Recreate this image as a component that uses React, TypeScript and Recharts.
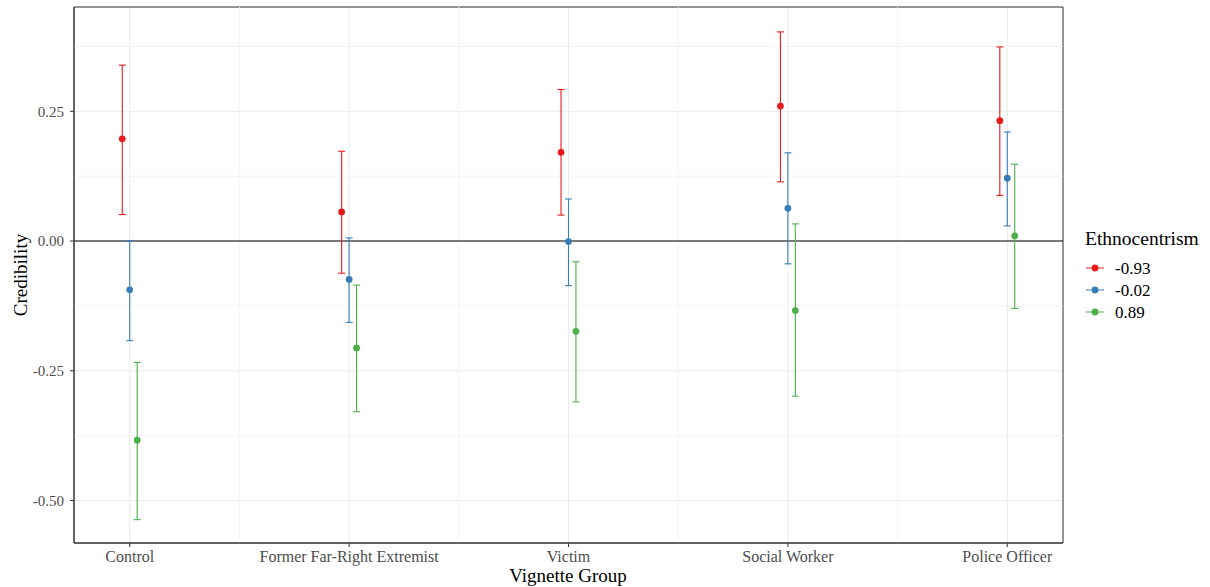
import React from 'react';
import {
  ScatterChart,
  Scatter,
  XAxis,
  YAxis,
  CartesianGrid,
  ErrorBar,
  ReferenceLine,
  ReferenceArea,
  Label,
} from 'recharts';

const FONT = '"Liberation Serif", "Times New Roman", serif';

// ---------- data ----------
const categories = ['Control', 'Former Far-Right Extremist', 'Victim', 'Social Worker', 'Police Officer'];
const levels = ['-0.93', '-0.02', '0.89'];

// Ethnocentrism = -0.93
const estLow = [0.197, 0.056, 0.171, 0.26, 0.232];
const ciLoLow = [0.051, -0.062, 0.05, 0.114, 0.088];
const ciHiLow = [0.339, 0.173, 0.292, 0.403, 0.374];
// Ethnocentrism = -0.02
const estMid = [-0.094, -0.074, -0.001, 0.063, 0.121];
const ciLoMid = [-0.192, -0.157, -0.086, -0.044, 0.029];
const ciHiMid = [0.001, 0.006, 0.081, 0.17, 0.21];
// Ethnocentrism = 0.89
const estHigh = [-0.384, -0.206, -0.174, -0.134, 0.01];
const ciLoHigh = [-0.537, -0.329, -0.31, -0.299, -0.13];
const ciHiHigh = [-0.234, -0.085, -0.04, 0.033, 0.148];

const yTicks = [-0.5, -0.25, 0, 0.25];
const yMinor = [-0.375, -0.125, 0.125, 0.375];
const xTicks = [1, 2, 3, 4, 5];
const xMinor = [1.5, 2.5, 3.5, 4.5];

// ---------- styling ----------
const colors = ['#E41A1C', '#377EB8', '#4DAF4A'];
const dodge = [-0.034, 0, 0.034];
const X_DOMAIN: [number, number] = [0.746, 5.254];
const Y_DOMAIN: [number, number] = [-0.582, 0.451];

const ests = [estLow, estMid, estHigh];
const los = [ciLoLow, ciLoMid, ciLoHigh];
const his = [ciHiLow, ciHiMid, ciHiHigh];

const series = levels.map((lvl, s) => ({
  name: lvl,
  color: colors[s],
  data: categories.map((c, i) => ({
    cat: c,
    x: i + 1 + dodge[s],
    y: ests[s][i],
    err: [ests[s][i] - los[s][i], his[s][i] - ests[s][i]],
  })),
}));

const fmtY = (v: number) => v.toFixed(2);

const LegendBox = () => (
  <svg width={130} height={100} style={{ overflow: 'visible', display: 'block' }}>
    <text x={5} y={25} fontFamily={FONT} fontSize={19.5} fill="#000">
      Ethnocentrism
    </text>
    {series.map((s, i) => (
      <g key={s.name}>
        <line x1={6} x2={24} y1={48 + i * 22} y2={48 + i * 22} stroke={s.color} strokeWidth={1} />
        <circle cx={15} cy={48 + i * 22} r={3.4} fill={s.color} />
        <text x={35} y={48 + i * 22} dy="0.35em" fontFamily={FONT} fontSize={17} fill="#000">
          {s.name}
        </text>
      </g>
    ))}
  </svg>
);

export default function App() {
  return (
    <div style={{ position: 'absolute', left: 0, top: 0, width: 1210, height: 587, background: '#fff' }}>
      <ScatterChart width={1210} height={587} margin={{ top: 7, right: 147, bottom: 0, left: 0 }}>
        <CartesianGrid stroke="#ebebeb" strokeWidth={1} />
        {xMinor.map((v) => (
          <ReferenceLine key={'xm' + v} x={v} stroke="#f3f3f3" strokeWidth={1} />
        ))}
        {yMinor.map((v) => (
          <ReferenceLine key={'ym' + v} y={v} stroke="#f3f3f3" strokeWidth={1} />
        ))}
        <XAxis
          type="number"
          dataKey="x"
          domain={X_DOMAIN}
          ticks={xTicks}
          interval={0}
          allowDataOverflow
          tickFormatter={(v: number) => categories[Math.round(v) - 1] ?? ''}
          height={44}
          tickSize={4}
          tickMargin={4}
          axisLine={{ stroke: '#333333' }}
          tickLine={{ stroke: '#333333' }}
          tick={{ fill: '#4d4d4d', fontSize: 16, fontFamily: FONT }}
        >
          <Label
            content={() => (
              <text x={568} y={582} textAnchor="middle" fontFamily={FONT} fontSize={19} fill="#000">
                Vignette Group
              </text>
            )}
          />
        </XAxis>
        <YAxis
          type="number"
          dataKey="y"
          domain={Y_DOMAIN}
          ticks={yTicks}
          allowDataOverflow
          tickFormatter={fmtY}
          width={74}
          tickSize={4}
          tickMargin={6}
          axisLine={{ stroke: '#333333' }}
          tickLine={{ stroke: '#333333' }}
          tick={{ fill: '#4d4d4d', fontSize: 15, fontFamily: FONT }}
        >
          <Label
            content={() => (
              <text
                x={27}
                y={275}
                transform="rotate(-90 27 275)"
                textAnchor="middle"
                fontFamily={FONT}
                fontSize={19}
                fill="#000"
              >
                Credibility
              </text>
            )}
          />
        </YAxis>
        <ReferenceLine y={0} stroke="#000" strokeWidth={1.2} />
        <ReferenceArea
          x1={X_DOMAIN[0]}
          x2={X_DOMAIN[1]}
          y1={Y_DOMAIN[0]}
          y2={Y_DOMAIN[1]}
          fill="none"
          stroke="#333333"
          strokeWidth={1}
          ifOverflow="visible"
        />
        {series.map((s) => (
          <Scatter
            key={s.name}
            name={s.name}
            data={s.data}
            fill={s.color}
            isAnimationActive={false}
            shape={(p: any) => <circle cx={p.cx} cy={p.cy} r={3.4} fill={s.color} />}
          >
            <ErrorBar dataKey="err" direction="y" width={3.5} stroke={s.color} strokeWidth={1.1} />
          </Scatter>
        ))}
      </ScatterChart>
      <div style={{ position: 'absolute', left: 1080, top: 220 }}>
        <LegendBox />
      </div>
    </div>
  );
}
